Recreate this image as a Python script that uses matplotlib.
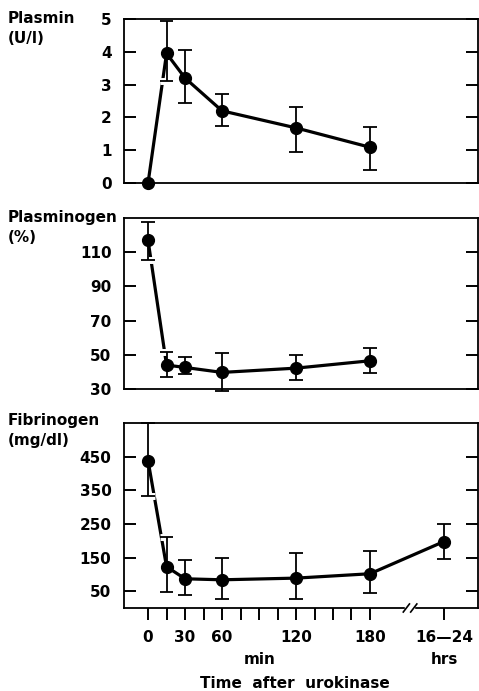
import numpy as np
import matplotlib
matplotlib.use("Agg")
import matplotlib.pyplot as plt
import matplotlib.patheffects as pe

# Time points (min); the 16-24 h sample sits past an axis break
times = [0, 15, 30, 60, 120, 180]
late_pos = 240  # x position used for the "16-24 hrs" point

plasmin = [0, 3.95, 3.2, 2.2, 1.68, 1.09]
plasmin_hi = [None, 4.95, 4.05, 2.7, 2.32, 1.70]
plasmin_lo = [None, 3.1, 2.45, 1.75, 0.96, 0.40]

plasminogen = [117, 44, 42.6, 39.7, 42.2, 46.5]
plasminogen_hi = [127.5, 51.5, 48.8, 50.8, 49.6, 53.9]
plasminogen_lo = [105.6, 36.8, 38.7, 29.0, 35.2, 39.5]

fibrinogen = [439, 123, 87, 84, 89, 102, 198]
fibrinogen_hi = [550, 212, 143, 150, 163, 169, 250]
fibrinogen_lo = [334, 47, 40, 28, 27, 46, 146]

xtick_labels = ["0", "30", "60", "120", "180", "16\u201424"]

plt.rcParams['font.family'] = ['DejaVu Sans']
plt.rcParams['font.weight'] = 'bold'

W, H = 479, 691
fig = plt.figure(figsize=(W / 100, H / 100), dpi=100)


def px_axes(top, bottom, left=124, right=478):
    return fig.add_axes([left / W, 1 - bottom / H, (right - left) / W, (bottom - top) / H])


def panel(ax, x, y, hi, lo, ylim, yticks, label, label_y):
    ax.plot(x, y, color="black", lw=2.3, zorder=2, clip_on=False)
    xe = [xi for xi, h in zip(x, hi) if h is not None]
    ye = [yi for yi, h in zip(y, hi) if h is not None]
    up = [h - yi for yi, h in zip(y, hi) if h is not None]
    dn = [yi - l for yi, l in zip(y, lo) if l is not None]
    _, caps, bars = ax.errorbar(xe, ye, yerr=[dn, up], fmt="none", ecolor="black",
                                elinewidth=1.3, capsize=5, capthick=1.3)
    for c in caps:
        c.set_zorder(3)
        c.set_clip_on(False)
        c.set_path_effects([pe.Stroke(linewidth=5, foreground="white"), pe.Normal()])
    for b in bars:
        b.set_zorder(4)
        b.set_clip_on(False)
    ax.plot(x, y, "o", color="black", ms=8.5, zorder=7, clip_on=False)
    for s in ax.spines.values():
        s.set_linewidth(1.3)
        s.set_zorder(6)
    ax.set_xlim(-19.5, 267.6)
    ax.set_ylim(*ylim)
    ax.set_yticks(yticks)
    ax.tick_params(axis="y", direction="in", length=8.5, width=1.4, left=True, right=True,
                   labelsize=11, pad=9)
    for lab in ax.get_yticklabels():
        lab.set_fontweight("bold")
    fig.text(8 / W, 1 - label_y / H, label, fontsize=11, fontweight="bold",
             va="top", ha="left", linespacing=1.45)


ax1 = px_axes(19, 183)
panel(ax1, times, plasmin, plasmin_hi, plasmin_lo, (0, 5), range(0, 6), "Plasmin\n(U/l)", 11)
ax1.set_xticks([])

ax2 = px_axes(218, 389)
panel(ax2, times, plasminogen, plasminogen_hi, plasminogen_lo, (30, 130),
      [30, 50, 70, 90, 110], "Plasminogen\n(%)", 210)
ax2.set_xticks([])

ax3 = px_axes(423, 608)
fib_x = times + [late_pos]
panel(ax3, fib_x, fibrinogen, fibrinogen_hi, fibrinogen_lo, (0, 551),
      [50, 150, 250, 350, 450], "Fibrinogen\n(mg/dl)", 413)
minor = list(range(0, 181, 15))
ax3.set_xticks(minor + [late_pos])
labs = {0: "0", 30: "30", 60: "60", 120: "120", 180: "180"}
ax3.set_xticklabels([labs.get(m, "") for m in minor] + [xtick_labels[-1]],
                    fontsize=11, fontweight="bold")
ax3.tick_params(axis="x", direction="out", length=8.5, width=1.4, pad=7)

# axis break on the bottom spine
ax3.fill_between([208, 216], -6, 6, color="white", zorder=8, clip_on=False)
for xb in (207, 213):
    ax3.plot([xb, xb + 5], [-12, 12], color="black", lw=1.2, zorder=9, clip_on=False)

fig.text(260 / W, 1 - 660 / H, "min", ha="center", va="center", fontsize=11, fontweight="bold")
fig.text(444 / W, 1 - 660 / H, "hrs", ha="center", va="center", fontsize=11, fontweight="bold")
fig.text(295 / W, 1 - 683 / H, "Time  after  urokinase", ha="center", va="center",
         fontsize=11, fontweight="bold")

fig.savefig("out.png", dpi=100)
